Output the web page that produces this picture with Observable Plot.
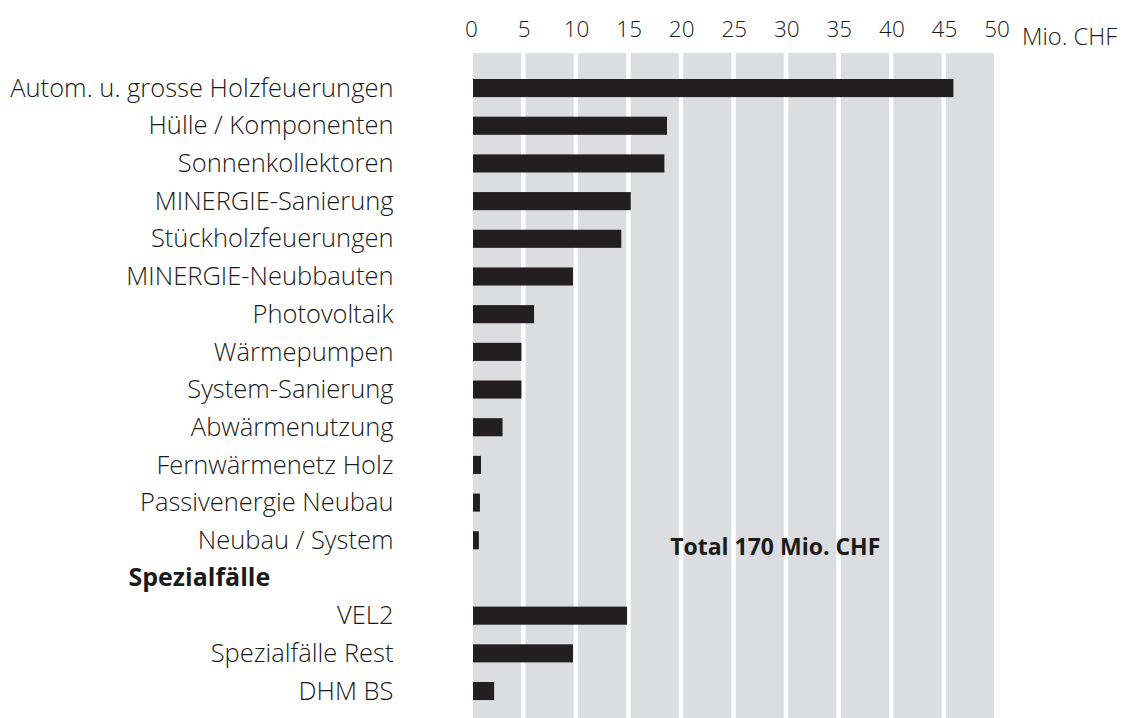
<!DOCTYPE html>
<html>
<head>
<meta charset="utf-8">
<script src="https://cdn.jsdelivr.net/npm/d3@7"></script>
<script src="https://cdn.jsdelivr.net/npm/@observablehq/plot@0.6"></script>
<style>
  html, body { margin: 0; padding: 0; background: #ffffff; }
  #chart { width: 1122px; height: 718px; overflow: hidden; }
</style>
</head>
<body>
<div id="chart"></div>
<script>
const categories = [
  "Autom. u. grosse Holzfeuerungen",
  "Hülle / Komponenten",
  "Sonnenkollektoren",
  "MINERGIE-Sanierung",
  "Stückholzfeuerungen",
  "MINERGIE-Neubbauten",
  "Photovoltaik",
  "Wärmepumpen",
  "System-Sanierung",
  "Abwärmenutzung",
  "Fernwärmenetz Holz",
  "Passivenergie Neubau",
  "Neubau / System",
  "Spezialfälle",
  "VEL2",
  "Spezialfälle Rest",
  "DHM BS"
];
const values = [45.9, 18.65, 18.4, 15.2, 14.3, 9.7, 6.0, 4.8, 4.8, 3.0, 0.95, 0.85, 0.75, null, 14.85, 9.7, 2.2];
const xTicks = [0, 5, 10, 15, 20, 25, 30, 35, 40, 45, 50];
const groupHeader = "Spezialfälle";
const unitLabel = "Mio. CHF";
const totalLabel = "Total 170 Mio. CHF";
const totalAnchor = {x: 28.9, y: "Neubau / System"};

const rows = categories.map((c, i) => ({category: c, value: values[i]})).filter(d => d.value != null);
const columns = xTicks.slice(0, -1).map((t, i) => ({x1: t, x2: xTicks[i + 1]}));

const font = "'Open Sans', 'Noto Sans', sans-serif";
const ink = "#1a1a1a";

const chart = Plot.plot({
  width: 1122,
  height: 718,
  marginTop: 53,
  marginBottom: 0,
  marginLeft: 471,
  marginRight: 125.5,
  style: {fontFamily: font, color: ink, background: "#ffffff"},
  x: {domain: [0, 50], axis: null},
  y: {domain: categories, axis: null, paddingInner: 0.52, paddingOuter: 0.583, align: 0.592, round: false},
  marks: [
    Plot.rectX(columns, {x1: "x1", x2: "x2", fill: "#dcdde0", insetLeft: 2, insetRight: 2.5}),
    Plot.barX(rows, {x: "value", y: "category", fill: "#231f20", insetLeft: 2}),
    Plot.axisX({anchor: "top", ticks: xTicks, tickSize: 0, tickPadding: 17, fontSize: 22.5, fontWeight: 300, fill: ink, label: null}),
    Plot.axisY({anchor: "left", tickSize: 0, tickPadding: 78, fontSize: 25.5, fontWeight: 300, fill: ink, label: null,
      tickFormat: d => d === groupHeader ? "" : d}),
    Plot.text([groupHeader], {y: d => d, frameAnchor: "left", textAnchor: "start", dx: -343, fontSize: 25, fontWeight: "bold", fill: ink}),
    Plot.text([unitLabel], {x: () => 50, frameAnchor: "top", textAnchor: "start", dx: 25, dy: -25, fontSize: 23.7, fontWeight: 300, fill: ink}),
    Plot.text([totalLabel], {x: () => totalAnchor.x, y: () => totalAnchor.y, textAnchor: "middle", dy: 7, fontSize: 23, fontWeight: "bold", fill: ink})
  ]
});
document.getElementById("chart").appendChild(chart);
</script>
</body>
</html>
